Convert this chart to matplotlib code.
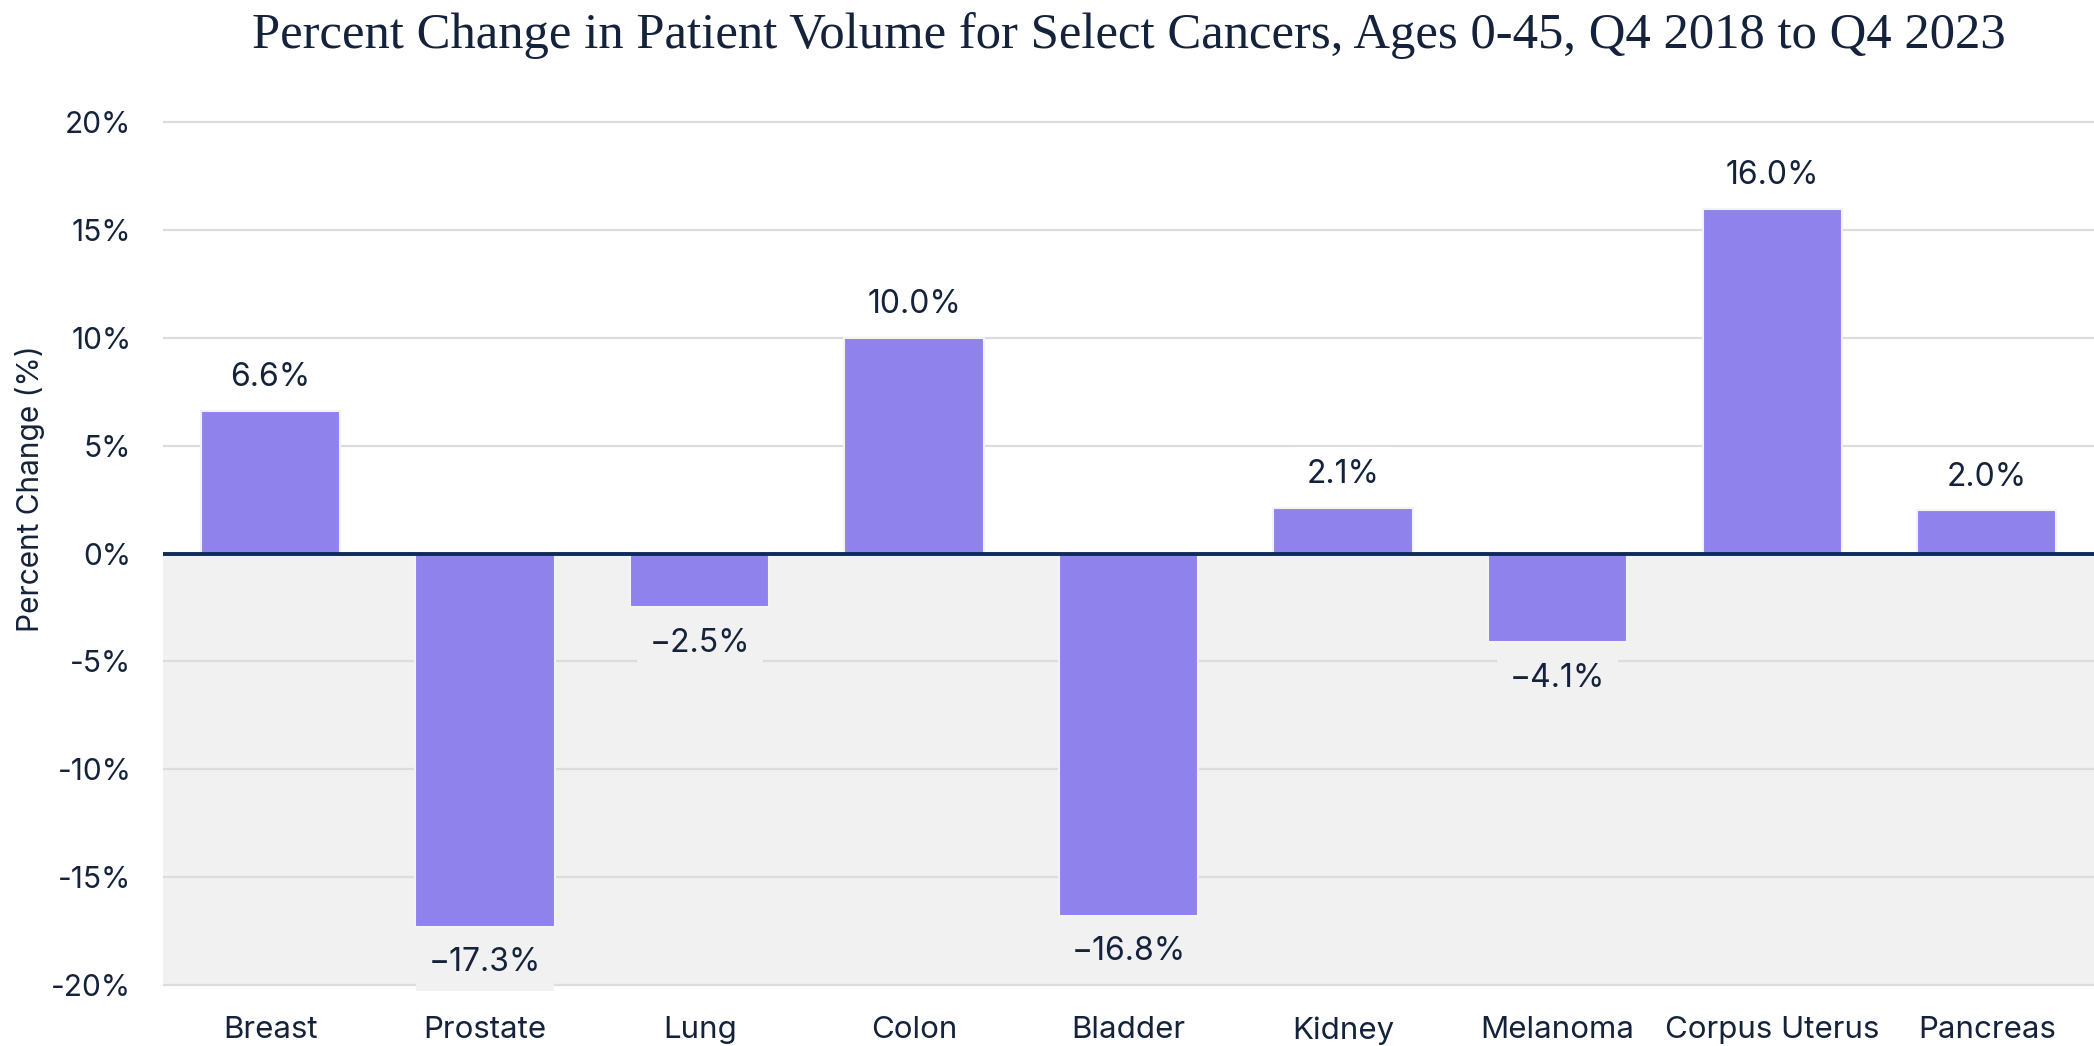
import matplotlib
matplotlib.use('Agg')

import matplotlib.pyplot as plt
import numpy as np

# data
cancers = ["Breast", "Prostate", "Lung", "Colon", "Bladder", "Kidney",
           "Melanoma", "Corpus Uterus", "Pancreas"]
pct_change = [6.6, -17.3, -2.5, 10.0, -16.8, 2.1, -4.1, 16.0, 2.0]
y_ticks = [-20, -15, -10, -5, 0, 5, 10, 15, 20]

TEXT = "#14233b"
BAR = "#8f82ec"
SHADE = "#f1f1f1"
GRID = "#dcdcdc"
ZERO = "#0e2b5c"

plt.rcParams['font.family'] = ['Inter', 'DejaVu Sans']

fig = plt.figure(figsize=(20.94, 10.46), dpi=100)
ax = fig.add_axes([0.078, 0.0565, 0.922, 0.8285])

x = np.arange(len(cancers))
ax.set_xlim(-0.5, len(cancers) - 0.5)
ax.set_ylim(-20.1, 20.1)

ax.axhspan(-20, 0, color=SHADE, zorder=0, lw=0)
for t in y_ticks:
    if t != 0:
        ax.axhline(t, color=GRID, lw=1.6, zorder=1)

ax.bar(x, pct_change, width=0.65, color=BAR, edgecolor="#f3f3f3",
       linewidth=1.5, zorder=2)
ax.axhline(0, color=ZERO, lw=2.8, zorder=3)

for xi, v in zip(x, pct_change):
    if v >= 0:
        ax.annotate(f"{v:.1f}%", (xi, v), xytext=(0, 24), textcoords="offset points",
                    ha="center", va="center", fontsize=23, color=TEXT, zorder=4,
                    bbox=dict(boxstyle="square,pad=0.4", fc="white", ec="none"))
    else:
        ax.annotate(f"\u2212{abs(v):.1f}%", (xi, v), xytext=(0, -26),
                    textcoords="offset points", ha="center", va="center",
                    fontsize=23, color=TEXT, zorder=4,
                    bbox=dict(boxstyle="square,pad=0.4", fc=SHADE, ec="none"))

ax.set_xticks(x)
ax.set_xticklabels(cancers, fontsize=22.5, color=TEXT)
ax.set_yticks(y_ticks)
ax.set_yticklabels([f"{t}%" if t >= 0 else f"-{abs(t)}%" for t in y_ticks],
                   fontsize=21.5, color=TEXT)
ax.tick_params(axis="both", length=0)
ax.tick_params(axis="x", pad=21)
ax.tick_params(axis="y", pad=23)
for s in ax.spines.values():
    s.set_visible(False)

ax.set_ylabel("Percent Change (%)", fontsize=21.5, color=TEXT)
ax.yaxis.set_label_coords(-0.0615, 0.575)

fig.text(0.539, 0.966, "Percent Change in Patient Volume for Select Cancers, Ages 0-45, Q4 2018 to Q4 2023",
         ha="center", va="center", fontsize=36.5, color=TEXT,
         family=["Liberation Serif", "DejaVu Serif"])

fig.savefig("out.png", dpi=100, facecolor="white")
